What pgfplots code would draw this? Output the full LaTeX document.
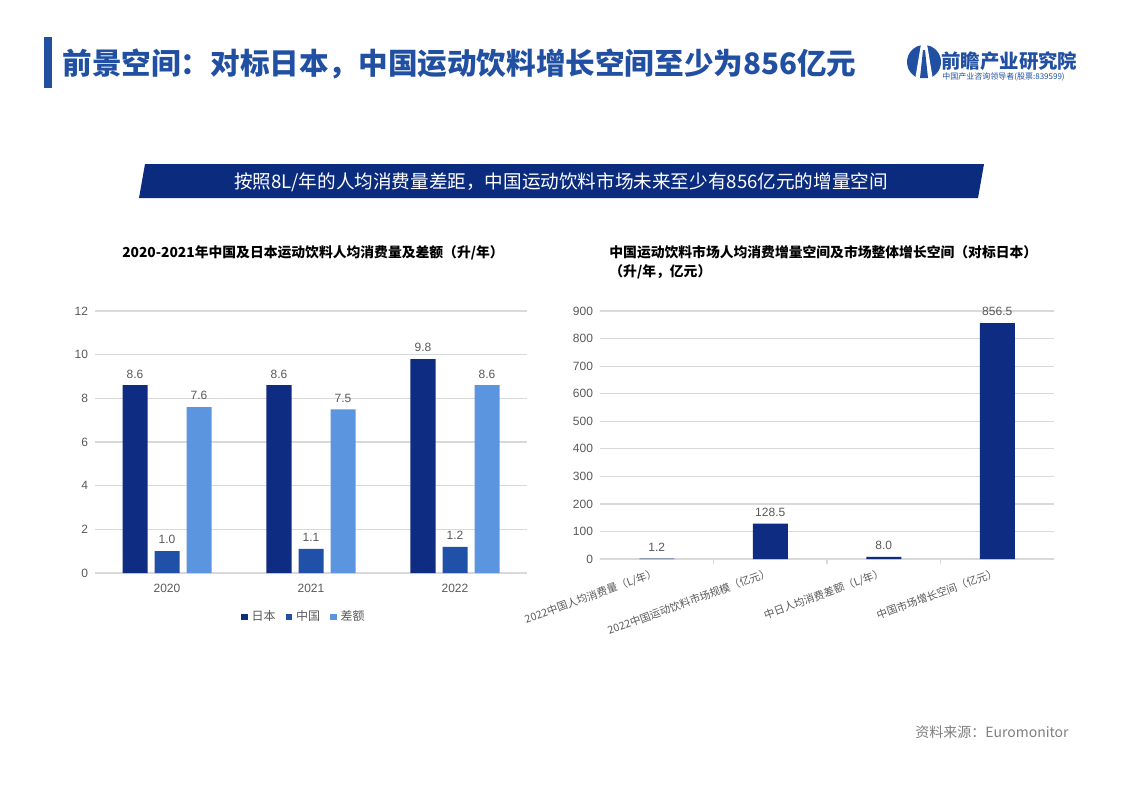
\documentclass[border=0pt]{standalone}
\usepackage{pgfplots}
\pgfplotsset{compat=1.18}
\usepackage{fontspec}
\setmainfont{Noto Sans CJK SC}
\newfontfamily\arial{Liberation Sans}

\definecolor{navy}{HTML}{0E2C82}
\definecolor{midblue}{HTML}{2050A8}
\definecolor{lightblue}{HTML}{5B95E0}
\definecolor{titleblue}{HTML}{2150A2}
\definecolor{bannerblue}{HTML}{0B2C7E}
\definecolor{txtgray}{HTML}{595959}
\definecolor{srcgray}{HTML}{7F7F7F}
\definecolor{gridgray}{HTML}{D9D9D9}

\pgfplotsset{
  chartbase/.style={
    scale only axis, anchor=south west,
    axis line style={draw=none},
    major tick length=0pt,
    ymajorgrids, grid style={gridgray, line width=0.6pt},
    tick label style={text=txtgray, font=\arial\fontsize{6pt}{7pt}\selectfont},
    /pgf/number format/assume math mode=true,
    ybar,
    nodes near coords,
    nodes near coords style={text=txtgray, font=\arial\fontsize{6pt}{7pt}\selectfont,
      /pgf/number format/.cd, fixed, fixed zerofill, precision=1},
  },
}

\begin{document}
\begin{tikzpicture}
\path[fill=white, use as bounding box] (0,0) rectangle (561.5pt,-396.5pt);

\begin{scope}[x=0.5pt, y=-0.5pt]
  % page title
  \fill[titleblue] (44,37) rectangle (52,88);
  \node[anchor=west, inner sep=0, text=titleblue,
        font=\fontsize{14.8pt}{17pt}\selectfont\bfseries] at (62,64)
        {前景空间：对标日本，中国运动饮料增长空间至少为856亿元};

  % logo
  \fill[titleblue] (924,62) circle (17);
  \fill[white] (921,44) -- (927,44) -- (933,80) -- (915,80) -- cycle;
  \fill[titleblue] (923,50) -- (925,50) -- (928,78) -- (920,78) -- cycle;
  \node[anchor=west, inner sep=0, text=titleblue,
        font=\fontsize{9.7pt}{10pt}\selectfont\bfseries] at (941,61) {前瞻产业研究院};
  \node[anchor=west, inner sep=0, text=titleblue,
        font=\fontsize{4pt}{5pt}\selectfont] at (942,77) {中国产业咨询领导者(股票:839599)};

  % banner
  \fill[bannerblue] (145,164) -- (984,164) -- (978,198) -- (139,198) -- cycle;
  \node[text=white, inner sep=0, font=\fontsize{9.3pt}{10pt}\selectfont] at (561,182)
        {按照8L/年的人均消费量差距，中国运动饮料市场未来至少有856亿元的增量空间};

  % chart titles
  \node[inner sep=0, font=\fontsize{6.9pt}{8pt}\selectfont\bfseries] at (313,253)
        {2020-2021年中国及日本运动饮料人均消费量及差额（升/年）};
  \node[anchor=north west, align=left, inner sep=0,
        font=\fontsize{6.9pt}{9.5pt}\selectfont\bfseries] at (609,245)
        {中国运动饮料市场人均消费增量空间及市场整体增长空间（对标日本）\\（升/年，亿元）};

  % source
  \node[anchor=east, inner sep=0, text=srcgray,
        font=\fontsize{7pt}{8pt}\selectfont] at (1069,732) {资料来源：Euromonitor};
\end{scope}

% left chart
\begin{axis}[chartbase,
  at={(47.5pt,-286.5pt)}, width=216pt, height=131pt,
  xmin=-0.5, xmax=2.5, ymin=0, ymax=12, ytick={0,2,...,12},
  xtick={0,1,2}, xticklabels={2020,2021,2022},
  x tick label style={yshift=-2pt},
  bar width=12.5pt,
  legend columns=-1,
  legend style={draw=none, at={(0.486,0)}, anchor=center, yshift=-22pt,
    font=\fontsize{6pt}{7pt}\selectfont, text=txtgray,
    /tikz/every even column/.append style={column sep=3pt}},
  legend image code/.code={\fill[#1] (0pt,-1.6pt) rectangle (3.2pt,1.6pt);},
]
\addplot[fill=navy, draw=none, bar shift=-16pt] coordinates {(0,8.6) (1,8.6) (2,9.8)};
\addplot[fill=midblue, draw=none, bar shift=0pt] coordinates {(0,1.0) (1,1.1) (2,1.2)};
\addplot[fill=lightblue, draw=none, bar shift=16pt] coordinates {(0,7.6) (1,7.5) (2,8.6)};
\legend{日本,中国,差额}
\end{axis}

% right chart
\begin{axis}[chartbase,
  at={(300pt,-279.5pt)}, width=227pt, height=124pt,
  xmin=-0.5, xmax=3.5, ymin=0, ymax=900, ytick={0,100,...,900},
  xtick={0,1,2,3}, xtick pos=bottom,
  xticklabels={2022中国人均消费量（L/年）,2022中国运动饮料市场规模（亿元）,中日人均消费差额（L/年）,中国市场增长空间（亿元）},
  x tick label style={rotate=20, anchor=north east, xshift=1pt,
    font=\fontsize{5.3pt}{6pt}\selectfont},
  extra x ticks={0.5,1.5,2.5}, extra x tick labels={},
  extra x tick style={grid=none, major tick length=2.5pt, tick align=outside,
    xtick pos=bottom, tick style={draw=gridgray, line width=0.6pt}},
  bar width=17.5pt,
]
\addplot[fill=navy, draw=none, bar shift=0pt] coordinates {(0,1.2) (1,128.5) (2,8.0) (3,856.5)};
\end{axis}
\end{tikzpicture}
\end{document}
